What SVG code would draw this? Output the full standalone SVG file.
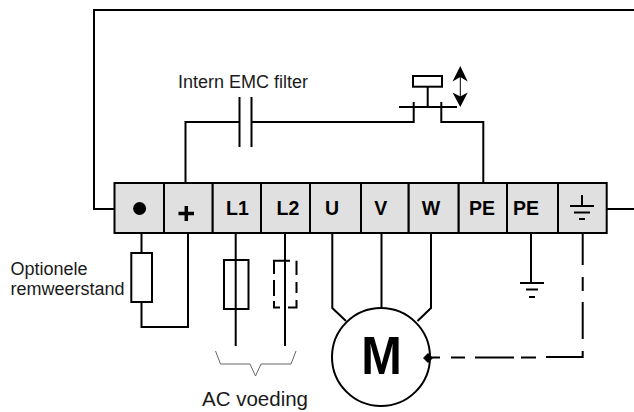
<svg xmlns="http://www.w3.org/2000/svg" width="634" height="412" viewBox="0 0 634 412">
<style>
text{font-family:"Liberation Sans",Arial,sans-serif;fill:#1a1a1a}
.l{fill:none;stroke:#000;stroke-width:2}
.t{fill:#e0e0e0;stroke:#000;stroke-width:2}
.b{font-size:19.500px;font-weight:bold;text-anchor:middle;fill:#000}
.n{font-size:18px}
</style>
<g id="connectors" class="l">
<path d="M634 10H94V209H114.500"/>
<path d="M185.500 183V122H239.500M251.500 122H413.700V102M441.300 102V122H483.300V183"/>
<path d="M141.500 233V253M141.500 302V327H188V233"/>
<path d="M235.700 233V346M285 233V346"/>
<path d="M332.300 233V308L346 321M381.500 233V307M431 233V308L417.500 321"/>
<path d="M531 233V283"/>
<path d="M582.700 233V265M582.700 277V291M582.700 302V339M582.700 351V357H546M536 357.500H521M514 357.500H475M465 357.500H451M440 357.500H428"/>
<path d="M607 209H634"/>
</g>
<g id="terminal-dot"><rect class="t" x="114.500" y="183" width="49.500" height="50"/><circle cx="139.600" cy="208.500" r="6.500"/></g>
<g id="terminal-plus"><rect class="t" x="164" y="183" width="48.700" height="50"/><path d="M178.500 213.500H194M186.300 206V221" fill="none" stroke="#000" stroke-width="3.500"/></g>
<g id="terminal-l1"><rect class="t" x="212.700" y="183" width="48.300" height="50"/><text class="b" x="237.500" y="215">L1</text></g>
<g id="terminal-l2"><rect class="t" x="261" y="183" width="49" height="50"/><text class="b" x="288" y="215">L2</text></g>
<g id="terminal-u"><rect class="t" x="310" y="183" width="51" height="50"/><text class="b" x="332" y="215">U</text></g>
<g id="terminal-v"><rect class="t" x="361" y="183" width="47.700" height="50"/><text class="b" x="380.700" y="215">V</text></g>
<g id="terminal-w"><rect class="t" x="408.700" y="183" width="50" height="50"/><text class="b" x="431" y="215">W</text></g>
<g id="terminal-pe1"><rect class="t" x="458.700" y="183" width="48.300" height="50"/><text class="b" x="482" y="215">PE</text></g>
<g id="terminal-pe2"><rect class="t" x="507" y="183" width="51" height="50"/><text class="b" x="526" y="215">PE</text></g>
<g id="terminal-ground"><rect class="t" x="558" y="183" width="48.700" height="50"/><path class="l" d="M582 195V206M570 206H594M574 212.500H590M579 219H585"/></g>
<g id="capacitor"><path class="l" d="M239.500 97V147M251.500 97V147"/><text class="n" x="178" y="88">Intern EMC filter</text></g>
<g id="switch"><rect class="l" x="413" y="76" width="29" height="10.700"/><path class="l" d="M427.700 87V107M399 107H457"/>
<path d="M460.300 72V102" stroke="#000" stroke-width="1"/><path d="M460.300 66L467.700 81.500L460.300 77L452.500 81.500ZM460.300 107L467.700 92.500L460.300 96.500L452.500 92.500Z"/></g>
<g id="resistor"><rect class="l" x="131.300" y="253" width="20.700" height="49"/><text class="n"><tspan x="10.500" y="275">Optionele</tspan><tspan x="10.500" y="295">remweerstand</tspan></text></g>
<g id="fuse-l1"><rect class="l" x="224" y="260" width="24.500" height="49"/></g>
<g id="fuse-l2"><path class="l" d="M290 260.700H274V274M274 280V296M274 301V307.500H280M288 307.500H296.500V300M296.500 293V282M296.500 275V260.700"/></g>
<g id="supply"><path d="M215.500 351L220.500 364H250L255.500 376L261 364H291L296 351" fill="none" stroke="#666" stroke-width="1"/><text x="202" y="406" style="font-size:20.500px">AC voeding</text></g>
<g id="motor"><circle cx="381" cy="357" r="49" fill="#fff" stroke="#000" stroke-width="2"/><text transform="translate(381.500 374.300) scale(.92 1)" text-anchor="middle" style="font-size:53px;font-weight:bold;fill:#000">M</text><path d="M423 358L428 353L433 358L428 363Z"/></g>
<g id="earth"><path class="l" d="M520 283H544M526 289.500H538M529 297H535"/></g>
</svg>
